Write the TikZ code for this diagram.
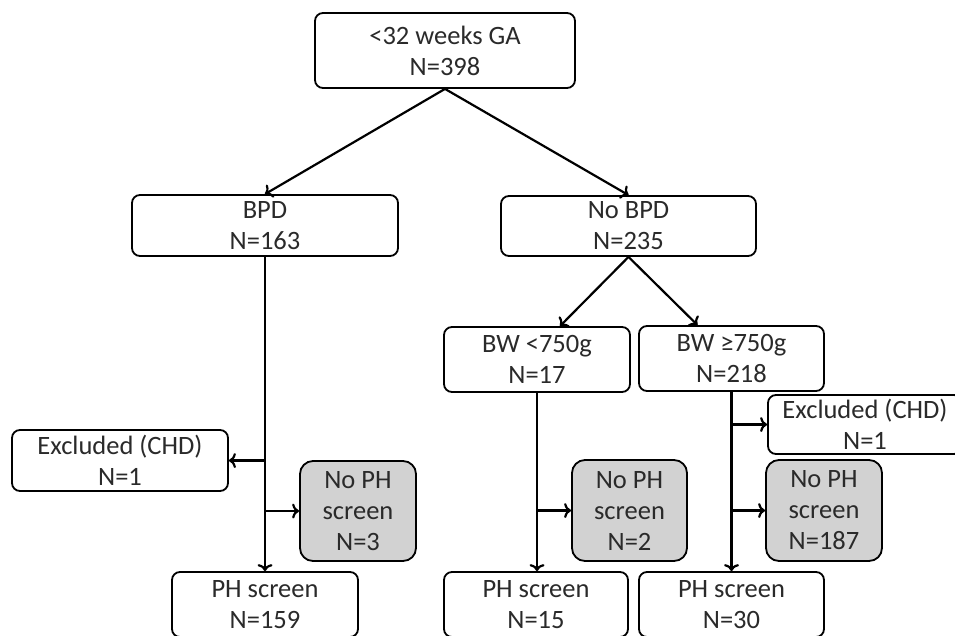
\documentclass[tikz,border=0pt]{standalone}
\usepackage{fontspec}
\setmainfont{Carlito}
\usetikzlibrary{arrows.meta,calc}
\definecolor{txt}{HTML}{2A2A2A}
\definecolor{boxgray}{HTML}{D2D2D2}
\tikzset{
  box/.style={draw=black, line width=1.8pt, rounded corners=8pt, fill=white, text=txt,
    align=center, inner sep=0pt, font=\fontsize{26.5}{31}\selectfont},
  graybox/.style={box, fill=boxgray, rounded corners=13pt},
  arr/.style={draw=black, line width=2.2pt, -{To[length=7pt,width=15pt]}}
}
\begin{document}
\begin{tikzpicture}[x=1pt,y=-1pt]
\useasboundingbox (0,0) rectangle (955,635);
\begin{scope}
\clip (0,0) rectangle (955,635);
\node[box, minimum width=260, minimum height=75] (top) at (445,50.5) {<32 weeks GA\\N=398};
\node[box, minimum width=266, minimum height=61] (bpd) at (265,225.5) {BPD\\N=163};
\node[box, minimum width=255, minimum height=60] (nobpd) at (628.5,226) {No BPD\\N=235};
\node[box, minimum width=186, minimum height=65] (bwl) at (537,359.5) {BW <750g\\N=17};
\node[box, minimum width=185, minimum height=65] (bwh) at (731.5,358.5) {BW \symbol{"2265}750g\\N=218};
\node[box, minimum width=216, minimum height=61] (exl) at (120,460.5) {Excluded (CHD)\\N=1};
\node[box, minimum width=194, minimum height=59] (exr) at (865,424.5) {Excluded (CHD)\\N=1};
\node[graybox, minimum width=116, minimum height=100] (np3) at (358,511) {No PH\\screen\\N=3};
\node[graybox, minimum width=115, minimum height=101] (np2) at (629.5,510.5) {No PH\\screen\\N=2};
\node[graybox, minimum width=116, minimum height=101] (np187) at (824,510.5) {No PH\\screen\\N=187};
\node[box, minimum width=186, minimum height=65] (ph159) at (265,604.5) {PH screen\\N=159};
\node[box, minimum width=184, minimum height=65] (ph15) at (536,604.5) {PH screen\\N=15};
\node[box, minimum width=185, minimum height=65] (ph30) at (731.5,604.5) {PH screen\\N=30};
\end{scope}

\draw[arr] (top.south) -- (bpd.north);
\draw[arr] (top.south) -- (nobpd.north);
\draw[arr] (nobpd.south) -- ([xshift=23pt]bwl.north);
\draw[arr] (nobpd.south) -- ([xshift=-34pt]bwh.north);

\draw[arr] (bpd.south) -- (ph159.north);
\draw[arr] (bpd.south |- exl.east) -- (exl.east);
\draw[arr] (bpd.south |- np3.west) -- (np3.west);

\draw[arr] (bwl.south) -- (bwl.south |- ph15.north);
\draw[arr] (bwl.south |- np2.west) -- (np2.west);

\draw[arr] (bwh.south) -- (ph30.north);
\draw[arr] (bwh.south |- exr.west) -- (exr.west);
\draw[arr] (bwh.south |- np187.west) -- (np187.west);
\end{tikzpicture}
\end{document}
